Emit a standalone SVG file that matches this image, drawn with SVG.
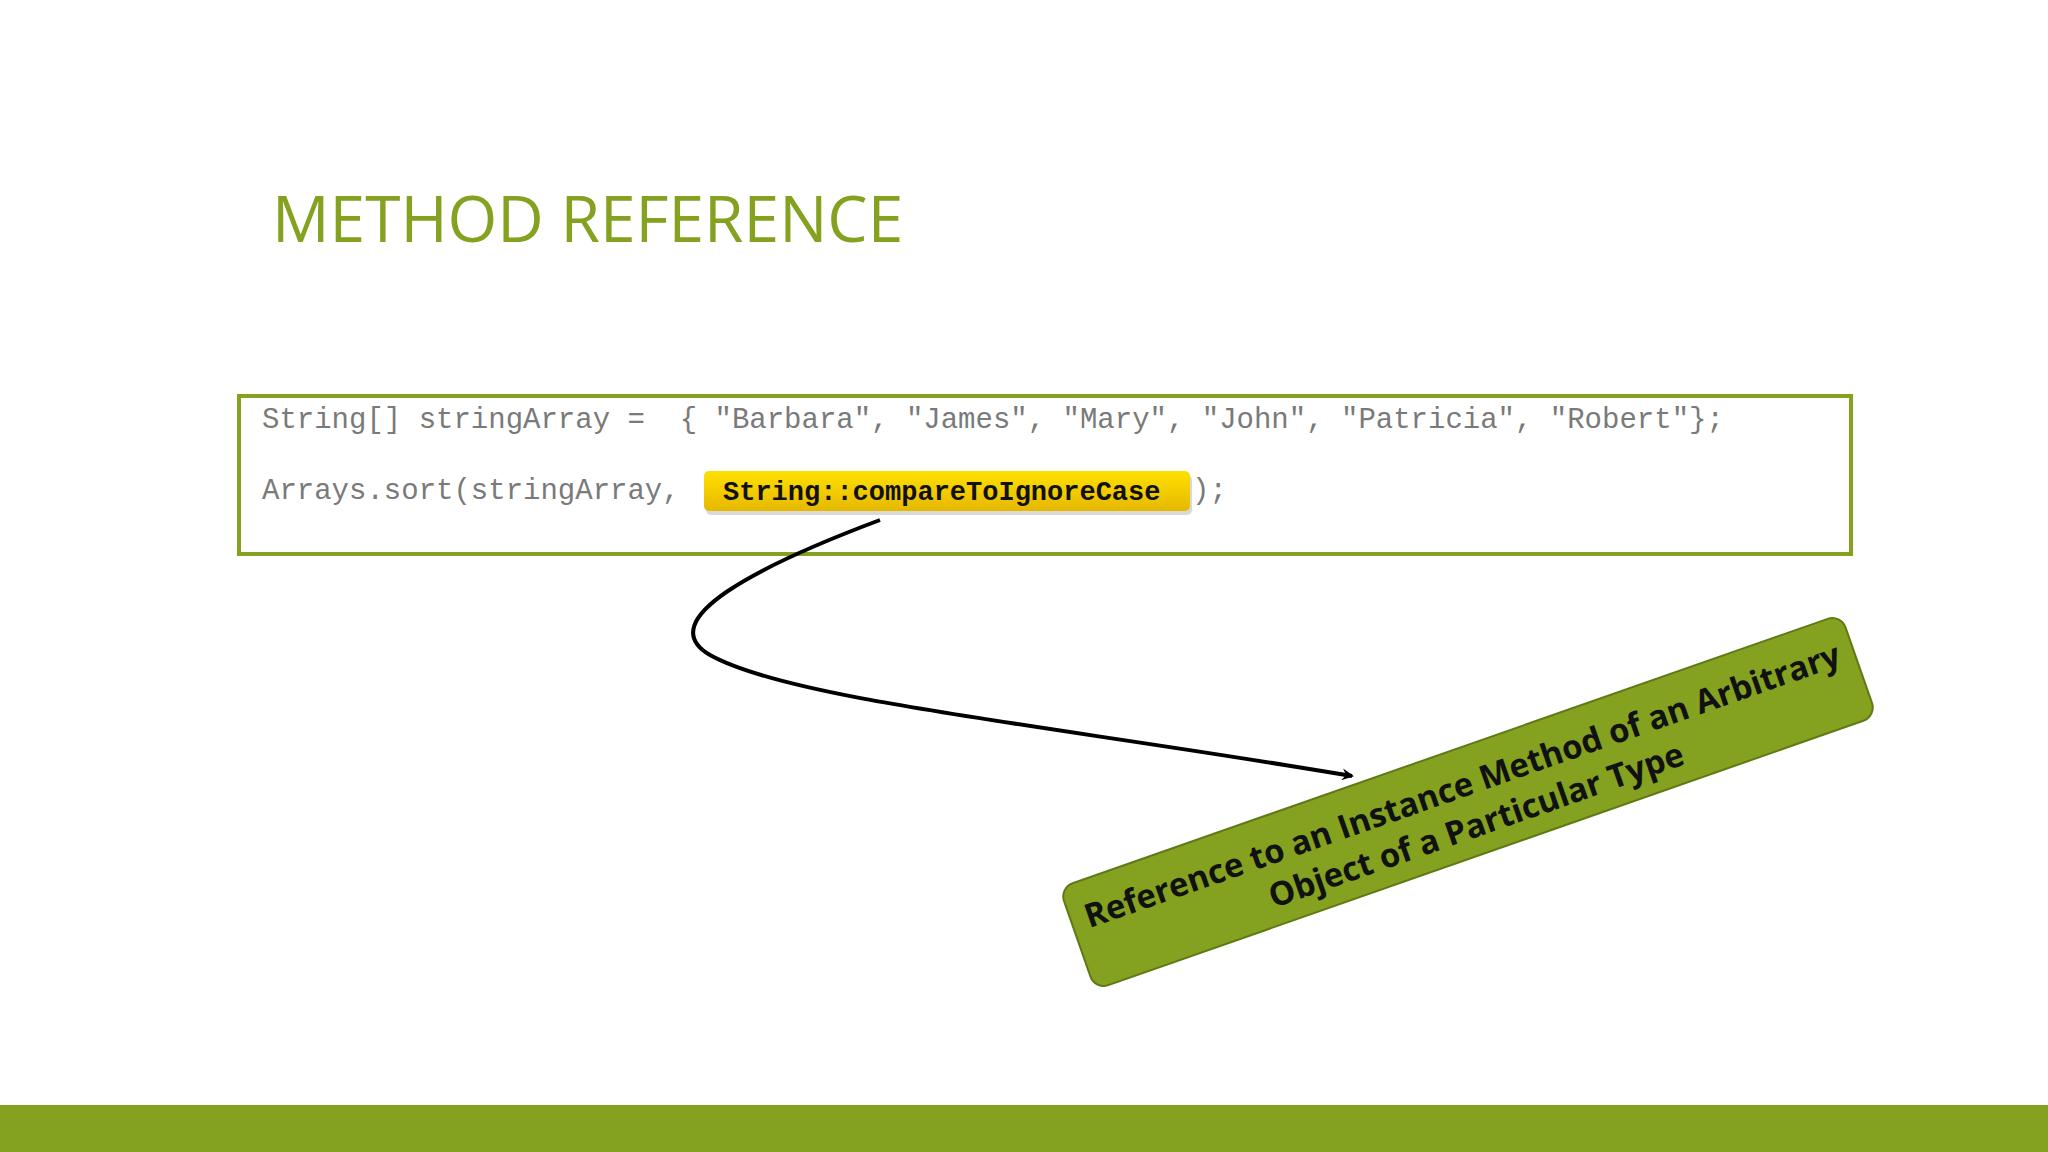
<svg xmlns="http://www.w3.org/2000/svg" width="2048" height="1152" viewBox="0 0 2048 1152">
<style>
.code{font-family:"Liberation Mono",monospace;font-size:29px;fill:#7a7a7a}
.hl{font-family:"Liberation Mono",monospace;font-size:27px;font-weight:bold;fill:#111}
.lbl{font-family:"Open Sans","Liberation Sans",sans-serif;font-size:33px;font-weight:bold;fill:#111}
</style>
<defs>
<marker id="ah" markerWidth="12" markerHeight="12" refX="10" refY="6" orient="auto" markerUnits="userSpaceOnUse"><path d="M0,0 L12,6 L0,12 L4,6 Z" fill="#000"/></marker>
<linearGradient id="yg" x1="0" y1="0" x2="0" y2="1"><stop offset="0" stop-color="#ffe000"/><stop offset="1" stop-color="#e6b800"/></linearGradient>
</defs>
<rect width="2048" height="1152" fill="#fff"/>
<text x="272" y="242" font-family="Open Sans, Liberation Sans, sans-serif" font-size="64" fill="#84A21F">METHOD REFERENCE</text>
<g id="codebox">
<rect x="239" y="396" width="1612" height="158" fill="none" stroke="#84A21F" stroke-width="4"/>
<text class="code" x="262" y="428" xml:space="preserve">String[] stringArray =  { "Barbara", "James", "Mary", "John", "Patricia", "Robert"};</text>
<text class="code" x="262" y="499" xml:space="preserve">Arrays.sort(stringArray,</text>
<rect x="706" y="475" width="486" height="40" rx="5" fill="#000" opacity="0.15"/>
<rect x="704" y="471" width="486" height="40" rx="5" fill="url(#yg)"/>
<text class="hl" x="723" y="500">String::compareToIgnoreCase</text>
<text class="code" x="1192" y="499">);</text>
</g>
<g id="connectors">
<path d="M880,520 C760,565 650,620 710,655 C790,700 1050,725 1352,776" fill="none" stroke="#000" stroke-width="4" marker-end="url(#ah)"/>
</g>
<g id="label" transform="translate(1468,802) rotate(-19.3)">
<rect x="-414" y="-54" width="828" height="108" rx="14" fill="#84A21F" stroke="#5f7a15" stroke-width="2"/>
<text class="lbl" x="0" y="-6" text-anchor="middle">Reference to an Instance Method of an Arbitrary</text>
<text class="lbl" x="0" y="36" text-anchor="middle">Object of a Particular Type</text>
</g>
<rect x="0" y="1105" width="2048" height="47" fill="#84A21F"/>
</svg>
